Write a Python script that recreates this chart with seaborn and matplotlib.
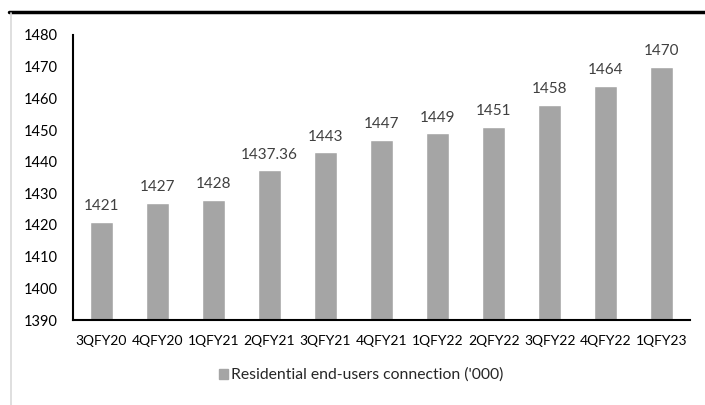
import matplotlib
matplotlib.use("Agg")
import matplotlib.pyplot as plt
import seaborn as sns
import pandas as pd
from matplotlib.lines import Line2D
from matplotlib.patches import Rectangle

quarters = ["3QFY20", "4QFY20", "1QFY21", "2QFY21", "3QFY21", "4QFY21",
            "1QFY22", "2QFY22", "3QFY22", "4QFY22", "1QFY23"]
values = [1421, 1427, 1428, 1437.36, 1443, 1447, 1449, 1451, 1458, 1464, 1470]
value_labels = ["1421", "1427", "1428", "1437.36", "1443", "1447", "1449",
                "1451", "1458", "1464", "1470"]
series_name = "Residential end-users connection ('000)"
yticks = [1390, 1400, 1410, 1420, 1430, 1440, 1450, 1460, 1470, 1480]

df = pd.DataFrame({"quarter": quarters, "value": values, "series": series_name})

sns.set_theme(style="white")
plt.rcParams["font.family"] = ["Lato", "DejaVu Sans"]

fig = plt.figure(figsize=(7.05, 4.05), dpi=100)
ax = fig.add_axes([73 / 705, 1 - 320 / 405, (690 - 73) / 705, (320 - 35) / 405])

sns.barplot(data=df, x="quarter", y="value", hue="series", palette=["#a5a5a5"],
            width=0.41, ax=ax, legend=False)

ax.set_ylim(1390, 1480)
ax.set_yticks(yticks)
ax.set_xlim(-0.5, len(quarters) - 0.5)
ax.set_xlabel("")
ax.set_ylabel("")
ax.tick_params(axis="both", length=0, colors="black")
ax.tick_params(axis="y", pad=11, labelsize=10.5)
ax.tick_params(axis="x", pad=11, labelsize=10)
for s in ["top", "right"]:
    ax.spines[s].set_visible(False)
for s in ["left", "bottom"]:
    ax.spines[s].set_color("black")
    ax.spines[s].set_linewidth(1.5)

for i, (v, lab) in enumerate(zip(values, value_labels)):
    ax.annotate(lab, (i, v), xytext=(0, 6), textcoords="offset points",
                ha="center", va="bottom", fontsize=11, color="#404040")

# legend
fig.legend(handles=[Rectangle((0, 0), 1, 1, color="#a5a5a5")], labels=[series_name],
           loc="center", bbox_to_anchor=(361 / 705, 1 - 375 / 405), frameon=False,
           fontsize=11.3, handlelength=0.6, handleheight=0.6, handletextpad=0.15,
           borderpad=0, borderaxespad=0)

# frame decorations: thick top rule and thin left border
fig.add_artist(Line2D([9 / 705, 1], [1 - 11.5 / 405, 1 - 11.5 / 405], color="black",
                      linewidth=2.5, transform=fig.transFigure))
fig.add_artist(Line2D([10.5 / 705, 10.5 / 705], [0, 1 - 13 / 405], color="#d9d9d9",
                      linewidth=1.2, transform=fig.transFigure))

fig.savefig("out.png", dpi=100)
